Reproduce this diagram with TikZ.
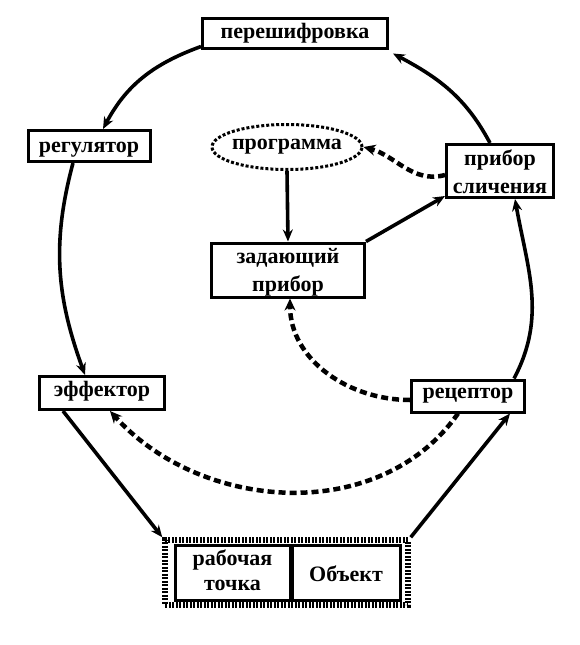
\documentclass[tikz,border=0pt]{standalone}
\usepackage{fontspec}
\setmainfont{Liberation Serif}
\usetikzlibrary{arrows.meta,shapes.geometric}
\begin{document}
\begin{tikzpicture}[x=1pt,y=1pt,
  lbl/.style={font=\fontsize{22}{28}\selectfont\bfseries,align=center,inner sep=0pt},
  one/.style={lbl,text height=15pt,text depth=5pt},
  frame/.style={draw,line width=3pt,inner sep=0pt,fill=white},
  flow/.style={line width=3.6pt,-{Stealth[length=12pt,width=10pt]}},
  dflow/.style={line width=4.5pt,dash pattern=on 7pt off 4pt,-{Stealth[length=12pt,width=11pt]}}]
\useasboundingbox (0,0) rectangle (580,-645);
% frames
\node[frame,minimum width=185pt,minimum height=30pt] (per) at (295,-33) {};
\node[frame,minimum width=122pt,minimum height=31pt] (reg) at (89,-146) {};
\node[draw,ellipse,line width=3pt,dash pattern=on 3pt off 2pt,minimum width=150pt,minimum height=45pt,inner sep=0pt] (prog) at (287,-147) {};
\node[frame,minimum width=107pt,minimum height=53pt] (prib) at (500,-171) {};
\node[frame,minimum width=153pt,minimum height=54pt] (zad) at (288,-270) {};
\node[frame,minimum width=125pt,minimum height=33pt] (eff) at (102,-393) {};
\node[frame,minimum width=113pt,minimum height=32pt] (rec) at (468,-396) {};
\node[draw,line width=5.5pt,dash pattern=on 2pt off 1.5pt,minimum width=243pt,minimum height=65pt,inner sep=0pt] (bot) at (286.5,-572.5) {};
\node[frame,minimum width=115pt,minimum height=55pt] (rt) at (232.5,-572.5) {};
\node[frame,minimum width=108pt,minimum height=55pt] (obj) at (346,-572.5) {};
% texts
\node[one] (perT) at (per.center) {перешифровка};
\node[one] (regT) at ([yshift=-1.5pt]reg.center) {регулятор};
\node[one] (progT) at ([yshift=3pt]prog.center) {программа};
\node[one] (effT) at ([yshift=1.5pt]eff.center) {эффектор};
\node[one] (recT) at ([yshift=2.5pt]rec.center) {рецептор};
\node[one] (objT) at ([yshift=-4pt]obj.center) {Объект};
\node[lbl] (pribT) at ([yshift=-1pt]prib.center) {прибор\\сличения};
\node[lbl] (zadT) at ([yshift=-2.5pt]zad.center) {задающий\\прибор};
\node[lbl,font=\fontsize{22}{25}\selectfont\bfseries] (rtT) at ([yshift=2.5pt]rt.center) {рабочая\\точка};
% solid connectors
\draw[flow] ([yshift=3pt]per.south west) to[out=200,in=62] ([xshift=14pt]reg.north);
\draw[flow] ([xshift=-16pt]reg.south) to[out=255,in=110] ([xshift=-17pt]eff.north);
\draw[flow] ([xshift=-39pt]eff.south) -- (bot.north west);
\draw[flow] (bot.north east) -- ([xshift=42pt]rec.south);
\draw[flow] ([xshift=-12pt]rec.north east) to[out=62,in=-80] ([xshift=15pt]prib.south);
\draw[flow] ([xshift=-10pt]prib.north) to[out=118,in=-28] ([xshift=4pt,yshift=-4pt]per.south east);
\draw[flow] (zad.north east) -- ([yshift=3pt]prib.south west);
\draw[flow] (prog.south) -- (zad.north);
% dashed connectors
\draw[dflow] ([yshift=-4pt]prib.west) to[out=195,in=-15] (prog.east);
\draw[dflow] ([yshift=-4pt]rec.west) to[out=180,in=-90] ([xshift=2pt]zad.south);
\draw[dflow] ([xshift=-10pt]rec.south) to[out=235,in=-48] ([xshift=8pt]eff.south);
\end{tikzpicture}
\end{document}
